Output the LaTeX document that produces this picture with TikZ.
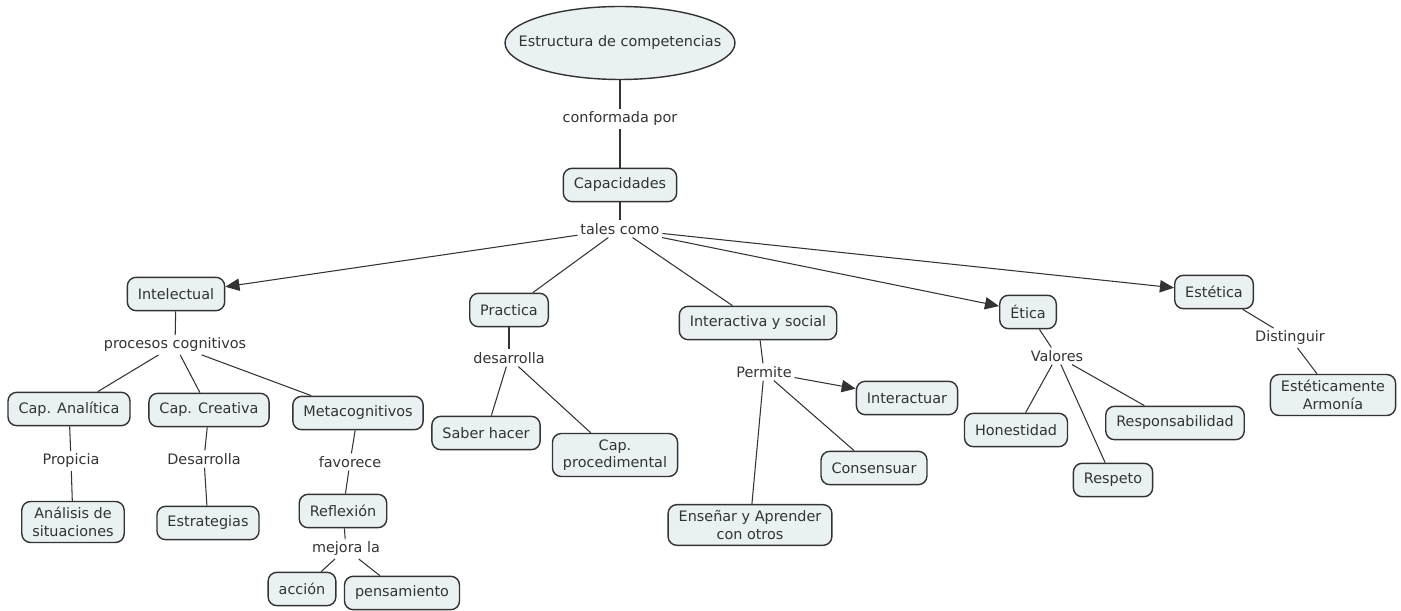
\documentclass[tikz,border=0pt]{standalone}
\usepackage{fontspec}
\setmainfont{DejaVu Sans}
\usetikzlibrary{shapes,arrows.meta}

\definecolor{cmapfill}{HTML}{EAF1F3}
\definecolor{cmapline}{HTML}{333333}

\tikzset{
    concept/.style={draw=cmapline, fill=cmapfill, rounded corners=5pt, line width=0.8pt,
        inner xsep=6pt, minimum height=19pt, align=center, text=cmapline,
        font=\fontsize{8.2}{10}\selectfont},
    topconcept/.style={concept, ellipse, inner xsep=-20pt, inner ysep=0pt,
        minimum width=4.6cm, minimum height=1.46cm},
    linkword/.style={inner sep=1.5pt, text=cmapline, font=\fontsize{8.2}{10}\selectfont},
    link/.style={draw=cmapline, line width=0.6pt},
    linkto/.style={link, -{Triangle[length=8pt, width=7pt]}}
}

\begin{document}
\begin{tikzpicture}[x=0.02cm, y=-0.02cm]
    \useasboundingbox (0, 0) rectangle (1401, 611);

    \node [topconcept] (estructura) at (620, 43) {Estructura de competencias};
    \node [linkword] (conformada) at (620, 119) {conformada por};
    \node [concept] (capacidades) at (620, 185) {Capacidades};
    \node [linkword] (tales) at (620, 229) {tales como};

    \node [concept] (intelectual) at (176, 294) {Intelectual};
    \node [concept] (practica) at (509, 310) {Practica};
    \node [concept] (interactiva) at (758, 323) {Interactiva y social};
    \node [concept] (etica) at (1028, 312) {Ética};
    \node [concept] (estetica) at (1214, 292) {Estética};

    \node [linkword] (procesos) at (175, 345) {procesos cognitivos};
    \node [concept] (analitica) at (69, 409) {Cap. Analítica};
    \node [concept] (creativa) at (209, 410) {Cap. Creativa};
    \node [concept] (meta) at (358, 413) {Metacognitivos};
    \node [linkword] (propicia) at (71, 461) {Propicia};
    \node [linkword] (desarrollaB) at (204, 459) {Desarrolla};
    \node [linkword] (favorece) at (350, 462) {favorece};
    \node [concept] (analisis) at (73, 522) {Análisis de\\situaciones};
    \node [concept] (estrategias) at (208, 523) {Estrategias};
    \node [concept] (reflexion) at (343, 511) {Reflexión};
    \node [linkword] (mejora) at (346, 549) {mejora la};
    \node [concept] (accion) at (302, 589) {acción};
    \node [concept] (pensamiento) at (402, 593) {pensamiento};

    \node [linkword] (desarrolla) at (509, 358) {desarrolla};
    \node [concept] (saber) at (486, 433) {Saber hacer};
    \node [concept] (procedimental) at (615, 455) {Cap.\\procedimental};

    \node [linkword] (permite) at (764, 372) {Permite};
    \node [concept] (interactuar) at (907, 398) {Interactuar};
    \node [concept] (consensuar) at (874, 468) {Consensuar};
    \node [concept] (ensenar) at (750, 525) {Enseñar y Aprender\\con otros};

    \node [linkword] (valores) at (1057, 356) {Valores};
    \node [concept] (honestidad) at (1016, 430) {Honestidad};
    \node [concept] (respeto) at (1113, 480) {Respeto};
    \node [concept] (responsabilidad) at (1175, 423) {Responsabilidad};

    \node [linkword] (distinguir) at (1290, 338) {Distinguir};
    \node [concept] (armonia) at (1333, 395) {Estéticamente\\Armonía};

    \draw [link] (estructura) -- (conformada);
    \draw [link] (conformada) -- (capacidades);
    \draw [link] (capacidades) -- (tales);
    \draw [linkto] (tales) -- (intelectual);
    \draw [link] (tales) -- (practica);
    \draw [link] (tales) -- (interactiva);
    \draw [linkto] (tales) -- (etica);
    \draw [linkto] (tales) -- (estetica);

    \draw [link] (intelectual) -- (procesos);
    \draw [link] (procesos) -- (analitica);
    \draw [link] (procesos) -- (creativa);
    \draw [link] (procesos) -- (meta);
    \draw [link] (analitica) -- (propicia);
    \draw [link] (propicia) -- (analisis);
    \draw [link] (creativa) -- (desarrollaB);
    \draw [link] (desarrollaB) -- (estrategias);
    \draw [link] (meta) -- (favorece);
    \draw [link] (favorece) -- (reflexion);
    \draw [link] (reflexion) -- (mejora);
    \draw [link] (mejora) -- (accion);
    \draw [link] (mejora) -- (pensamiento);

    \draw [link] (practica) -- (desarrolla);
    \draw [link] (desarrolla) -- (saber);
    \draw [link] (desarrolla) -- (procedimental);

    \draw [link] (interactiva) -- (permite);
    \draw [linkto] (permite) -- (interactuar);
    \draw [link] (permite) -- (consensuar);
    \draw [link] (permite) -- (ensenar);

    \draw [link] (etica) -- (valores);
    \draw [link] (valores) -- (honestidad);
    \draw [link] (valores) -- (respeto);
    \draw [link] (valores) -- (responsabilidad);

    \draw [link] (estetica) -- (distinguir);
    \draw [link] (distinguir) -- (armonia);

\end{tikzpicture}
\end{document}
